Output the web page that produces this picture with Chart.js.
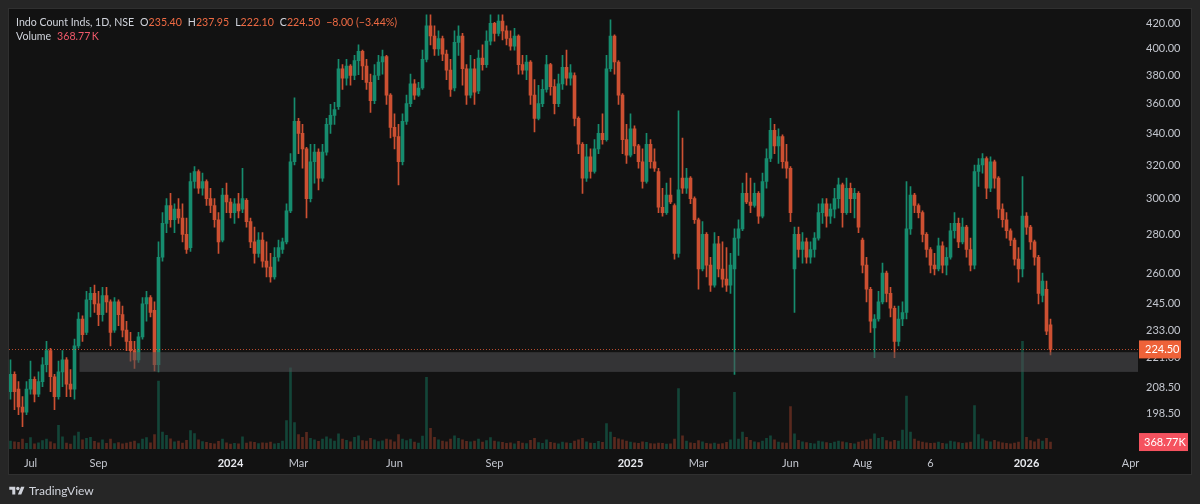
<!DOCTYPE html>
<html>
<head>
<meta charset="utf-8">
<script src="https://cdn.jsdelivr.net/npm/chart.js@4.4.1/dist/chart.umd.min.js"></script>
<style>
  html, body { margin: 0; padding: 0; width: 1200px; height: 504px; overflow: hidden; background: #262626; font-family: Lato, "Noto Sans", sans-serif; }
  #panel { position: absolute; left: 8px; top: 8px; width: 1182px; height: 465px; background: #121212; border: 1px solid #303030; }
  #chart { position: absolute; left: 0; top: 0; }
  .hd { position: absolute; left: 16px; font-size: 10.6px; line-height: 13px; white-space: nowrap; color: #d1d4dc; }
  .hd > span { margin-right: 6px; }
  .v { color: #ee6a43; }
  .vol { color: #f0596a; }
  #logo { position: absolute; left: 9px; top: 483px; display: flex; align-items: center; gap: 4px; color: #d1d4dc; font-size: 12px; }
</style>
</head>
<body>
<div id="panel"></div>
<canvas id="chart" width="1200" height="504"></canvas>

<div class="hd" style="top:16px"><span>Indo Count Inds, 1D, NSE</span><span>O<b class="v" id="hO" style="font-weight:normal"></b></span><span>H<b class="v" id="hH" style="font-weight:normal"></b></span><span>L<b class="v" id="hL" style="font-weight:normal"></b></span><span>C<b class="v" id="hC" style="font-weight:normal"></b></span><span class="v" id="hChg"></span></div>
<div class="hd" style="top:30px"><span>Volume</span><span class="vol" id="hVol"></span></div>

<div id="logo">
  <svg width="16" height="12" viewBox="0 0 36 28"><path d="M14 22H7V11H0V4h14v18zM28 22h-8l7.5-18h8L28 22z" fill="#d1d4dc"/><circle cx="20" cy="8" r="4" fill="#d1d4dc"/></svg>
  <span>TradingView</span>
</div>

<script>
// daily candles, Jul 2023 - Jan 2026 (sampled)
const open = [
  207,214,208,201,199,208,212,206,211,218,
  224,213,205,215,220,210,208,226,238,232,
  247,250,245,240,249,246,233,246,240,233,
  228,224,220,230,245,248,242,218,268,286,
  296,288,294,289,280,273,310,316,306,310,
  300,296,288,277,302,298,292,297,294,299,
  287,276,270,277,266,263,258,268,272,276,
  293,322,348,340,330,300,322,328,312,328,
  346,352,358,385,378,387,380,391,398,387,
  375,362,380,390,394,366,344,338,322,348,
  360,374,366,371,392,418,410,400,408,396,
  384,371,405,410,385,366,385,369,393,388,
  406,420,412,422,414,408,402,410,388,384,
  390,366,350,360,370,388,372,360,374,386,
  378,380,350,333,312,325,316,330,340,336,
  385,410,390,366,336,326,343,332,322,310,
  333,322,316,295,292,302,296,270,312,306,
  312,300,288,262,280,264,254,275,262,257,
  254,262,278,283,303,298,296,303,290,310,
  324,342,332,338,322,318,262,280,272,276,
  268,272,278,292,297,290,294,300,308,292,
  306,300,303,277,264,252,234,238,246,260,
  250,243,228,238,241,283,302,296,292,280,
  272,264,262,274,264,268,282,286,276,284,
  272,264,316,320,324,306,322,312,294,288,
  282,277,267,262,290,284,276,268,249,252,
  235.4
];
const high = [
  220,215,211,205,211,219.5,213,215,221,228,
  225,214,219.5,224,221,216,229,241,239.5,251,
  253,254,251,253,253,247,248,247,244,237,
  232,228,232,248,251,249,246,276,292,300,
  303,297,300,297,289,315,319,317,315,311,
  306,300,292,306,309,300,300,303,318,300,
  289,284,281,281,276,270,273,277,278,297,
  327,364,350,346,331,333,333,330,333,350,
  359.5,361,392,388,392,388,395,403,399,392,
  381,388,395,399,395,367,353,346,353,366,
  381,377,375,399,428,428,418,414,410,399,
  392,414,418,412,388,395,392,399,403,414,
  428,421,428,428,418,414,416,411,395,395,
  391,377,373,377,395,389,377,381,395,399,
  388,382,351,334,333,330,336,346,353,395,
  423,411,391,367,346,353,345,333,330,340,
  336,330,318,306,309,312,297,355,337,318,
  313,301,289,287,281,268,281,279,276,273,
  270,283,288,309,315,312,309,304,315,330,
  350,346,343,339,333,319,284,284,281,278,
  276,281,297,300,300,297,306,312,309,312,
  309,306,304,278,268,253,240,251,265,261,
  253,244,244,246,310,307,303,297,293,281,
  273,270,278,276,273,286,292,289,289,285,
  278,320,324,327,325,325,323,313,297,292,
  283,278,273,313,292,285,277,269,260,256,
  237.95
];
const low = [
  204,200,198,193.5,198,206,203,205,209,215,
  207,200,204,209,205,205,204,225,228,231,
  239,241,235,237,241,226,232,235,230,224,
  219.5,216.5,219,229,237,239,215.4,215,266,281,
  284,281,286,276,270,271,306,303,302,296,
  292,284,270,276,292,289,286,289,292,284,
  273,265,268,263,258,255.5,257,266,270,275,
  292,320,327,318,289,298,309,305,310,326,
  340,346,356,370,373,373,377,380.6,377,370,
  354,360,377,381,359.5,337,330,308,320,346,
  358,363,365,370,390,403,395,395,391,377,
  365,369,395,373,359.5,364,359.5,367,384,386,
  403,406,410,407,403,399,399,381,381,377,
  359.5,341,349,358,368,366,353,358,370,373,
  373,345,327,303,310,312,315,327,333,335,
  383,381,359.5,327,321,325,327,318,306,309,
  318,316,292,290,291,297,267,268,303,303,
  297,286,252,261,258,251,253,258,253,251,
  250,214,269,282,297,292,295,286,289,306,
  322,327,321,318,312,287,241,268,265,265,
  265,268,277,286,284,286,289,294.5,284,291,
  292,289,281,260,246,232,221,237,245,246,
  239,221,226,235,238,280,292,289,276,268,
  260,259,261,260,259,267,278,273,275,268,
  261,262,307,315,300,304,306,289,284,278,
  274,264,255.5,258,280,272,264,245,246,231,
  222.1
];
const close = [
  214,207,201,199,208,212,206,211,218,224,
  213,205,215,220,210,208,226,238,231,247,
  250,245,240,249,246,232,246,240,233,228,
  224,220,230,245,248,241,218,268,286,296,
  288,294,289,280,272,310,316,306,310,300,
  296,288,276,302,298,292,297,293,300,287,
  276,270,277,266,263,258,268,273,276,293,
  322,348,340,330,300,322,328,312,328,346,
  352,356,385,378,387,380,391,398,387,375,
  362,380,390,394,366,344,338,322,348,360,
  374,366,371,392,418,410,400,408,396,384,
  370,405,410,385,366,385,368,393,388,406,
  420,412,422,414,408,402,410,388,384,390,
  366,350,360,370,388,372,360,374,386,378,
  382,350,333,312,325,316,330,340,336,385,
  410,390,366,336,326,343,332,322,310,333,
  322,318,295,292,302,298,270,305,306,312,
  300,288,262,280,264,254,275,262,257,254,
  264,278,283,303,298,296,303,290,310,324,
  342,332,338,322,318,292,280,272,276,268,
  272,278,292,297,290,294,300,308,292,306,
  300,303,284,264,252,237,238,246,260,250,
  243,228,238,241,283,302,296,292,280,272,
  264,262,274,264,268,282,286,276,284,272,
  264,316,320,324,306,322,312,294,288,282,
  277,267,262,290,284,276,268,250,256,232.5,
  224.5
];
// volume in thousands
const volume = [
  420,380,350,520,300,610,280,330,450,520,
  380,290,1250,640,310,260,700,900,480,560,
  620,410,330,480,300,520,290,340,270,310,
  360,420,290,520,610,330,760,3600,900,720,
  540,380,420,310,460,980,820,480,390,350,
  300,280,410,520,330,260,300,280,640,320,
  380,350,290,330,310,360,280,300,420,1500,
  4300,1400,760,620,880,560,480,400,520,640,
  540,420,800,520,460,380,620,700,440,420,
  560,480,390,430,520,480,380,760,520,440,
  520,360,310,680,3800,1100,620,480,420,380,
  520,700,560,480,410,380,420,520,360,440,
  600,420,380,350,300,330,280,410,320,290,
  460,560,340,300,480,350,320,280,360,330,
  300,420,480,560,380,320,300,410,350,1350,
  900,620,540,480,420,360,330,300,380,350,
  290,270,320,300,260,280,520,3200,700,420,
  330,300,450,380,300,280,310,260,290,350,
  480,3000,520,900,620,460,380,340,420,560,
  700,480,360,330,310,2250,800,460,380,340,
  300,270,420,380,340,300,360,420,380,340,
  300,280,360,420,480,520,800,560,620,440,
  380,460,420,1000,2800,900,520,420,360,330,
  300,320,360,300,280,420,380,340,300,330,
  360,2300,760,540,420,380,460,380,330,300,
  280,310,360,5700,620,440,380,520,420,560,
  368.77
];

// time axis labels (candle index where the label sits)
const xTickIdx = [5, 22, 55, 72, 96, 121, 155, 172, 195, 213, 230, 254, 280];
const xTickLabels = ['Jul', 'Sep', '2024', 'Mar', 'Jun', 'Sep', '2025', 'Mar', 'Jun', 'Aug', '6', '2026', 'Apr'];
const yTicks = [198.5, 208.5, 221, 233, 245, 260, 280, 300, 320, 340, 360, 380, 400, 420];

// support zone drawn on the chart
const zoneFrom = 17.25;
const zoneHigh = 223.3;
const zoneLow = 215.0;

const upColor = '#168c6e';
const downColor = '#cd5032';
const upVol = 'rgba(22,140,110,0.42)';
const downVol = 'rgba(205,80,50,0.38)';
const lastColor = '#ee6239';
const volLabelColor = '#f5525f';
const axisFont = 'Lato, "Noto Sans", sans-serif';

const last = close.length - 1;
const isUp = close.map((c, i) => c >= open[i]);

// header values
document.getElementById('hO').textContent = open[last].toFixed(2);
document.getElementById('hH').textContent = high[last].toFixed(2);
document.getElementById('hL').textContent = low[last].toFixed(2);
document.getElementById('hC').textContent = close[last].toFixed(2);
const chg = close[last] - close[last - 1];
document.getElementById('hChg').textContent = '\u2212' + Math.abs(chg).toFixed(2) + ' (\u2212' + Math.abs(chg / close[last - 1] * 100).toFixed(2) + '%)';
document.getElementById('hVol').textContent = volume[last].toFixed(2) + '\u2009K';

const overlay = {
  id: 'overlay',
  afterDatasetsDraw(chart) {
    const { ctx, chartArea, scales } = chart;
    const x = scales.x, y = scales.y;
    ctx.save();
    // zone
    const zx = x.getPixelForValue(zoneFrom);
    const zt = y.getPixelForValue(zoneHigh);
    const zb = y.getPixelForValue(zoneLow);
    ctx.fillStyle = 'rgba(80,80,84,0.55)';
    ctx.fillRect(zx, zt, chartArea.right - zx, zb - zt);
    // last price dotted line
    const ly = Math.round(y.getPixelForValue(close[last])) + 0.5;
    ctx.strokeStyle = 'rgba(238,98,57,0.75)';
    ctx.lineWidth = 1;
    ctx.setLineDash([1, 2]);
    ctx.beginPath();
    ctx.moveTo(chartArea.left, ly);
    ctx.lineTo(chartArea.right, ly);
    ctx.stroke();
    ctx.restore();
  },
  afterDraw(chart) {
    const { ctx, chartArea, scales } = chart;
    ctx.save();
    ctx.font = '11px ' + axisFont;
    ctx.textBaseline = 'middle';
    const bx = chartArea.right + 1;
    // last price tag
    const py = scales.y.getPixelForValue(close[last]);
    ctx.fillStyle = lastColor;
    ctx.fillRect(bx, py - 9, 42, 18);
    ctx.fillStyle = '#ffffff';
    ctx.fillText(close[last].toFixed(2), bx + 6, py + 0.5);
    // last volume tag
    const vy = scales.yv.getPixelForValue(volume[last]);
    ctx.fillStyle = volLabelColor;
    ctx.fillRect(bx, vy - 9, 49, 18);
    ctx.fillStyle = '#ffffff';
    ctx.fillText(volume[last].toFixed(2) + 'K', bx + 5, vy + 0.5);
    ctx.restore();
  }
};

const ctx = document.getElementById('chart').getContext('2d');
new Chart(ctx, {
  type: 'bar',
  data: {
    datasets: [
      {
        label: 'Volume',
        data: volume.map((v, i) => ({ x: i, y: v })),
        yAxisID: 'yv',
        backgroundColor: isUp.map(u => u ? upVol : downVol),
        barThickness: 2,
        grouped: false,
        order: 3
      },
      {
        label: 'Wick',
        data: low.map((l, i) => ({ x: i, y: [l, high[i]] })),
        yAxisID: 'y',
        backgroundColor: isUp.map(u => u ? upColor : downColor),
        barThickness: 1,
        grouped: false,
        order: 2
      },
      {
        label: 'Body',
        data: open.map((o, i) => ({ x: i, y: [o, close[i]] })),
        yAxisID: 'y',
        backgroundColor: isUp.map(u => u ? upColor : downColor),
        barThickness: 3,
        minBarLength: 1,
        grouped: false,
        order: 1
      }
    ]
  },
  options: {
    responsive: false,
    animation: false,
    layout: { padding: { left: 9, top: 9, right: 9, bottom: 30 } },
    plugins: { legend: { display: false }, tooltip: { enabled: false } },
    scales: {
      x: {
        type: 'linear',
        min: -0.375,
        max: 281.875,
        offset: false,
        grid: { display: false, drawTicks: false },
        border: { display: false },
        afterBuildTicks: s => { s.ticks = xTickIdx.map(v => ({ value: v })); },
        afterFit: s => { s.height = 25; },
        ticks: {
          autoSkip: false,
          maxRotation: 0,
          padding: 8,
          callback: (v, i) => xTickLabels[i],
          color: c => /^\d{4}$/.test(xTickLabels[c.index]) ? '#e8eaef' : '#c3c6ce',
          font: c => ({ family: axisFont, size: 11, weight: /^\d{4}$/.test(xTickLabels[c.index]) ? 'bold' : 'normal' })
        }
      },
      y: {
        type: 'logarithmic',
        position: 'right',
        min: 185.4,
        max: 427.2,
        grid: { display: false, drawTicks: false },
        border: { display: false },
        afterBuildTicks: s => { s.ticks = yTicks.map(v => ({ value: v })); },
        afterFit: s => { s.width = 53; },
        ticks: {
          autoSkip: false,
          padding: 8,
          color: '#c3c6ce',
          font: { family: axisFont, size: 11 },
          callback: v => Number(v).toFixed(2)
        }
      },
      yv: {
        type: 'linear',
        display: false,
        min: 0,
        max: 23000
      }
    }
  },
  plugins: [overlay]
});
</script>
</body>
</html>
